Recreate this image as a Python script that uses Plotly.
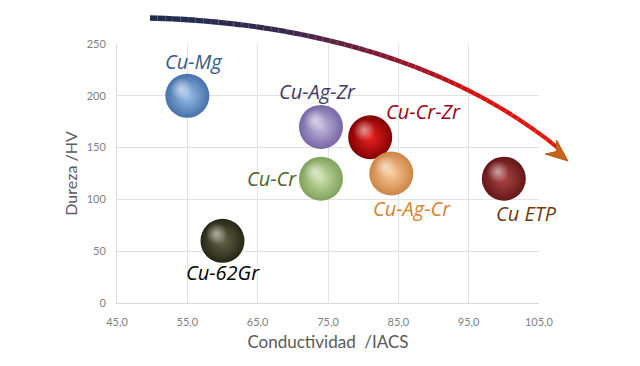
import numpy as np
import plotly.graph_objects as go

# ---- data ----
alloys = ["Cu-Mg", "Cu-Ag-Zr", "Cu-Cr-Zr", "Cu-Cr", "Cu-Ag-Cr", "Cu ETP", "Cu-62Gr"]
conductividad = [55, 74, 81, 74, 84, 100, 60]
dureza = [200, 170, 160, 120, 125, 120, 60]
x_ticks = [45, 55, 65, 75, 85, 95, 105]
y_ticks = [0, 50, 100, 150, 200, 250]

# ---- styles ----
edge_colors = ["#4572aa", "#7666a4", "#820000", "#80a25a", "#cc8444", "#641616", "#262616"]
center_colors = ["#9cc0ea", "#c6bce0", "#ee2222", "#cce2ae", "#fbcc9c", "#ac4646", "#66664a"]
label_colors = ["#355c8a", "#403a62", "#a00012", "#4f6228", "#d8822a", "#6b3a0a", "#000000"]
label_shift = [(6, 34), (-3, 35), (53, 26), (-49, 0), (21, -35), (23, -35), (0, -32)]

W, H = 640, 366
OFF = 8  # page body margin offset
ML, MT = 117 - OFF, 44 - OFF
PW, PH = 422, 259
MR = W - ML - PW
MB = H - MT - PH
XR, YR = [45, 105], [0, 250]

fig = go.Figure()
fig.add_trace(go.Scatter(
    x=conductividad, y=dureza, mode="markers",
    marker=dict(size=44, color=edge_colors, line=dict(width=0),
                gradient=dict(type="radial", color=center_colors), opacity=1),
    hoverinfo="text", text=alloys, showlegend=False, cliponaxis=False,
))

# specular highlight (offset up-left by a few pixels)
hx = [v - 6 * (XR[1] - XR[0]) / PW for v in conductividad]
hy = [v + 7 * (YR[1] - YR[0]) / PH for v in dureza]
fig.add_trace(go.Scatter(
    x=hx, y=hy, mode="markers", hoverinfo="skip", showlegend=False, cliponaxis=False,
    marker=dict(size=22, color="rgba(255,255,255,0)", line=dict(width=0),
                gradient=dict(type="radial", color="rgba(255,255,255,0.55)")),
))

for name, xv, yv, col, (dx, dy) in zip(alloys, conductividad, dureza, label_colors, label_shift):
    fig.add_annotation(x=xv, y=yv, text=name, showarrow=False, xshift=dx, yshift=dy,
                       font=dict(family="Open Sans", size=20, color=col, style="italic"))

# ---- decorative curved arrow (paper coords computed from pixel geometry) ----
def px2paper(px, py):
    return (px - OFF - ML) / PW, (MT + PH - (py - OFF)) / PH

P = np.array([[150, 18], [300, 22], [450, 60], [558, 148]], dtype=float)
t = np.linspace(0, 1, 60)
B = ((1 - t) ** 3)[:, None] * P[0] + (3 * (1 - t) ** 2 * t)[:, None] * P[1] \
    + (3 * (1 - t) * t ** 2)[:, None] * P[2] + (t ** 3)[:, None] * P[3]

stops = [(0.0, (28, 47, 79)), (0.3, (58, 40, 80)), (0.55, (140, 24, 48)),
         (0.75, (215, 15, 15)), (1.0, (232, 24, 10))]
def grad(v):
    for (a, ca), (b, cb) in zip(stops[:-1], stops[1:]):
        if a <= v <= b:
            f = (v - a) / (b - a)
            c = [int(ca[i] + (cb[i] - ca[i]) * f) for i in range(3)]
            return "rgb(%d,%d,%d)" % tuple(c)
    return "rgb(232,24,10)"

for i in range(len(t) - 1):
    x0, y0 = px2paper(*B[i])
    x1, y1 = px2paper(*B[i + 1])
    fig.add_shape(type="line", xref="paper", yref="paper", x0=x0, y0=y0, x1=x1, y1=y1,
                  line=dict(color=grad(t[i]), width=5.5 - 1.5 * t[i]), layer="above")

tip = np.array([568.0, 161.0])
d = P[3] - P[2]
d = d / np.linalg.norm(d)
n = np.array([-d[1], d[0]])
base = tip - 22 * d
notch = tip - 15 * d
pts = [tip, base + 9 * n, notch, base - 9 * n]
path = "M " + " L ".join("%f,%f" % px2paper(*p) for p in pts) + " Z"
fig.add_shape(type="path", xref="paper", yref="paper", path=path,
              fillcolor="#c8641a", line=dict(color="#b85a18", width=1), layer="above")

axis_font = dict(family="Lato", size=11, color="#7f7f7f")
fig.update_layout(
    width=W, height=H,
    margin=dict(l=ML, r=MR, t=MT, b=MB),
    paper_bgcolor="white", plot_bgcolor="white",
    separators=",.",
    xaxis=dict(range=XR, tickvals=x_ticks, tickformat=".1f",
               showgrid=True, gridcolor="#e2e2e2", gridwidth=1,
               showline=True, linecolor="#d9d9d9", linewidth=1, zeroline=False,
               tickfont=axis_font, ticks="", ticklabelstandoff=9,
               title=dict(text="Conductividad  /IACS", font=dict(family="Lato", size=17, color="#595959"), standoff=8)),
    yaxis=dict(range=YR, tickvals=y_ticks, showgrid=True, gridcolor="#e2e2e2", gridwidth=1,
               showline=True, linecolor="#d9d9d9", linewidth=1, zeroline=False,
               tickfont=axis_font, ticks="", ticklabelstandoff=8,
               title=dict(text="Dureza /HV", font=dict(family="Lato", size=16, color="#595959"), standoff=5)),
)

fig.write_html("out.html")
